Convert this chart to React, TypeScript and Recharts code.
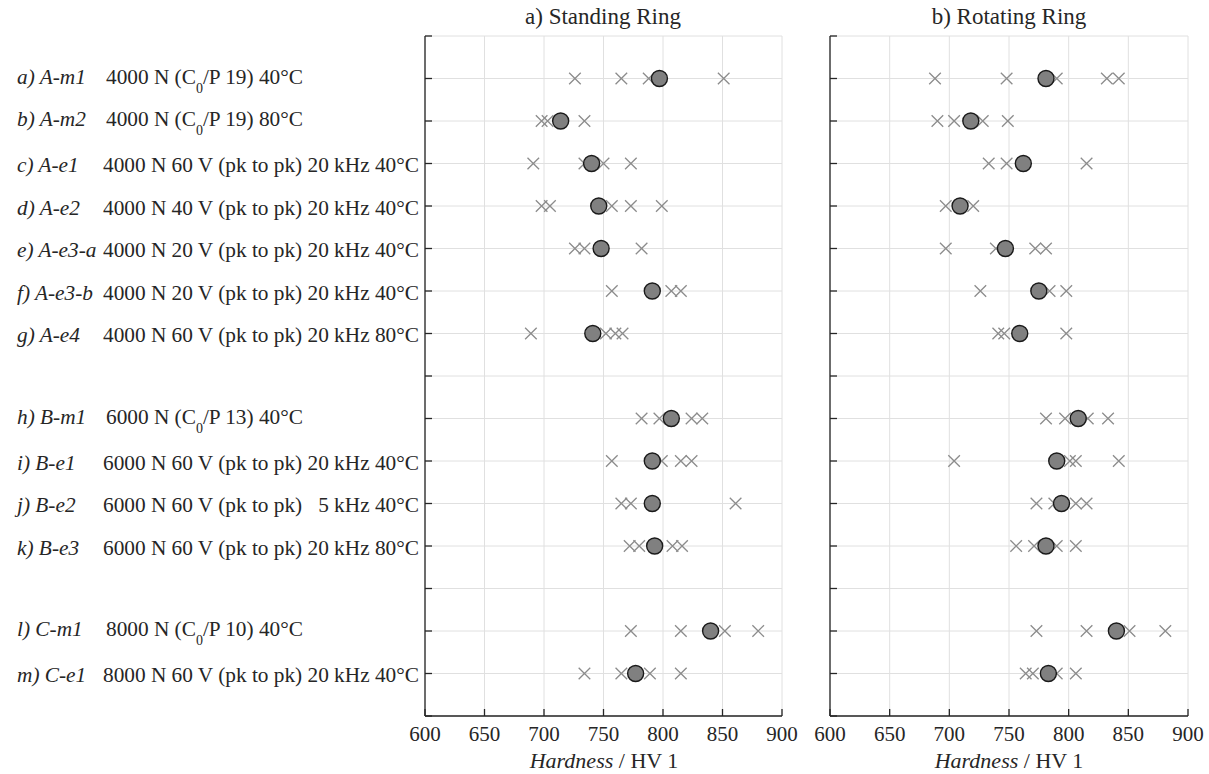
import React from 'react';
import { ScatterChart, Scatter, XAxis, YAxis, CartesianGrid } from 'recharts';

// row labels (italic code + test condition), "_0" marks the C0 subscript
const rowCodes = [
  'a) A-m1', 'b) A-m2', 'c) A-e1', 'd) A-e2', 'e) A-e3-a', 'f) A-e3-b', 'g) A-e4',
  'h) B-m1', 'i) B-e1', 'j) B-e2', 'k) B-e3',
  'l) C-m1', 'm) C-e1',
];
const rowConditions = [
  '4000 N (C_0/P 19) 40°C',
  '4000 N (C_0/P 19) 80°C',
  '4000 N 60 V (pk to pk) 20 kHz 40°C',
  '4000 N 40 V (pk to pk) 20 kHz 40°C',
  '4000 N 20 V (pk to pk) 20 kHz 40°C',
  '4000 N 20 V (pk to pk) 20 kHz 40°C',
  '4000 N 60 V (pk to pk) 20 kHz 80°C',
  '6000 N (C_0/P 13) 40°C',
  '6000 N 60 V (pk to pk) 20 kHz 40°C',
  '6000 N 60 V (pk to pk)   5 kHz 40°C',
  '6000 N 60 V (pk to pk) 20 kHz 80°C',
  '8000 N (C_0/P 10) 40°C',
  '8000 N 60 V (pk to pk) 20 kHz 40°C',
];
const rowPositions = [1, 2, 3, 4, 5, 6, 7, 9, 10, 11, 12, 14, 15];
const xTicks = [600, 650, 700, 750, 800, 850, 900];
const yTicks = [0, 1, 2, 3, 4, 5, 6, 7, 8, 9, 10, 11, 12, 13, 14, 15, 16];

// a) standing ring: single indents and mean
const standingHardness = [
  [726, 765, 788, 851],
  [698, 703, 734],
  [691, 734, 750, 773],
  [698, 705, 757, 773, 799],
  [726, 734, 782],
  [757, 807, 815],
  [689, 752, 760, 766],
  [782, 797, 824, 833],
  [757, 799, 815, 824],
  [765, 773, 861],
  [772, 780, 808, 816],
  [773, 815, 852, 880],
  [734, 765, 789, 815],
];
const standingMean = [797, 714, 740, 746, 748, 791, 741, 807, 791, 791, 793, 840, 777];

// b) rotating ring
const rotatingHardness = [
  [688, 748, 790, 832, 842],
  [690, 704, 728, 749],
  [733, 748, 815],
  [697, 720],
  [697, 739, 772, 781],
  [726, 784, 798],
  [741, 746, 798],
  [781, 797, 816, 833],
  [704, 801, 806, 842],
  [773, 788, 806, 815],
  [756, 771, 790, 806],
  [773, 815, 851, 881],
  [764, 770, 790, 806],
];
const rotatingMean = [781, 718, 762, 709, 747, 775, 759, 808, 790, 794, 781, 840, 783];

const FONT = '"Liberation Serif", "Times New Roman", serif';
const TEXT = '#262626';
const AXIS = '#262626';

const XMark = (props: any) => {
  const { cx, cy } = props;
  const s = 5.8;
  return (
    <path
      d={`M${cx - s},${cy - s}L${cx + s},${cy + s}M${cx - s},${cy + s}L${cx + s},${cy - s}`}
      stroke="#8c8c8c"
      strokeWidth={1.3}
      fill="none"
    />
  );
};

const MeanDot = (props: any) => {
  const { cx, cy } = props;
  return <circle cx={cx} cy={cy} r={8} fill="#808080" stroke="#1a1a1a" strokeWidth={1.4} />;
};

const RowLabel = (props: any) => {
  const { y, payload } = props;
  const idx = rowPositions.indexOf(payload.value);
  if (idx < 0) return <g />;
  const cond = rowConditions[idx];
  const hasSub = cond.includes('_0');
  const base = y + (hasSub ? 5 : 8.5);
  const parts = cond.split('_0');
  return (
    <g fontFamily={FONT} fontSize={21.3} fill={TEXT}>
      <text x={17} y={base} fontStyle="italic">{rowCodes[idx]}</text>
      <text x={hasSub ? 106 : 103} y={base} style={{ whiteSpace: 'pre' }}>
        {hasSub ? (
          <>
            {parts[0]}
            <tspan fontSize={14} dy={9}>0</tspan>
            <tspan dy={-9}>{parts[1]}</tspan>
          </>
        ) : (
          cond
        )}
      </text>
    </g>
  );
};

const NoLabel = () => <g />;

function Panel({ singles, means, withLabels, width }: { singles: number[][]; means: number[]; withLabels: boolean; width: number }) {
  const singleData = singles.flatMap((vals, i) => vals.map(v => ({ x: v, y: rowPositions[i] })));
  const meanData = means.map((v, i) => ({ x: v, y: rowPositions[i] }));
  return (
    <ScatterChart
      width={width}
      height={774}
      margin={{ top: 36, right: withLabels ? 18 : 21, bottom: 0, left: 0 }}
    >
      <CartesianGrid stroke="#e0e0e0" strokeWidth={1} />
      <XAxis
        dataKey="x"
        type="number"
        domain={[600, 900]}
        ticks={xTicks}
        interval={0}
        height={58}
        tickSize={-7}
        tickMargin={17}
        stroke={AXIS}
        strokeWidth={1.3}
        tick={{ fontSize: 21, fontFamily: FONT, fill: TEXT }}
        allowDataOverflow
      />
      <YAxis
        dataKey="y"
        type="number"
        domain={[0, 16]}
        reversed
        ticks={yTicks}
        interval={0}
        width={withLabels ? 425 : 30}
        tickSize={-7}
        stroke={AXIS}
        strokeWidth={1.3}
        tick={withLabels ? <RowLabel /> : <NoLabel />}
        allowDataOverflow
      />
      <Scatter data={singleData} shape={<XMark />} isAnimationActive={false} />
      <Scatter data={meanData} shape={<MeanDot />} isAnimationActive={false} />
    </ScatterChart>
  );
}

const titleStyle: React.CSSProperties = {
  position: 'absolute',
  fontFamily: FONT,
  fontSize: 23,
  lineHeight: '22px',
  color: TEXT,
  textAlign: 'center',
  whiteSpace: 'nowrap',
};

export default function App() {
  return (
    <div style={{ position: 'absolute', left: 0, top: 0, width: 1209, height: 774, background: '#fff', overflow: 'hidden' }}>
      <div style={{ position: 'absolute', left: 0, top: 0 }}>
        <Panel singles={standingHardness} means={standingMean} withLabels width={800} />
      </div>
      <div style={{ position: 'absolute', left: 800, top: 0 }}>
        <Panel singles={rotatingHardness} means={rotatingMean} withLabels={false} width={409} />
      </div>
      <div style={{ ...titleStyle, left: 503, width: 200, top: 6 }}>a) Standing Ring</div>
      <div style={{ ...titleStyle, left: 909, width: 200, top: 6 }}>b) Rotating Ring</div>
      <div style={{ ...titleStyle, fontSize: 22, left: 504, width: 200, top: 750 }}>
        <i>Hardness</i> / HV 1
      </div>
      <div style={{ ...titleStyle, fontSize: 22, left: 909, width: 200, top: 750 }}>
        <i>Hardness</i> / HV 1
      </div>
    </div>
  );
}
